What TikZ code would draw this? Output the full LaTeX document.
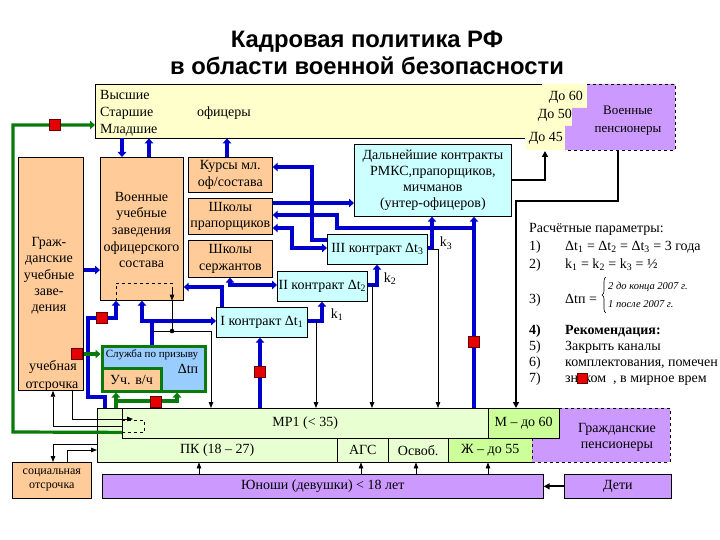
\documentclass[tikz,border=0pt]{standalone}
\usepackage{fontspec}
\setmainfont{Liberation Serif}
\newfontfamily\titlefont{Liberation Sans}
\usetikzlibrary{arrows.meta,decorations.pathreplacing}
\definecolor{peach}{HTML}{FFCC99}
\definecolor{yel}{HTML}{FFFFCC}
\definecolor{cyanl}{HTML}{CCFFFF}
\definecolor{purp}{HTML}{CC99FF}
\definecolor{bluel}{HTML}{99CCFF}
\definecolor{gl}{HTML}{E8FFD2}
\definecolor{gd}{HTML}{CCFF99}
\definecolor{myblue}{HTML}{0000CC}
\definecolor{mygreen}{HTML}{0A7A0A}
\definecolor{myred}{HTML}{E60000}
\newcommand\fmain{\fontsize{14}{16.5}\selectfont}
\newcommand\fsmall{\fontsize{11}{13}\selectfont}
\newcommand\fsoc{\fontsize{12}{14}\selectfont}
\newcommand\fital{\fontsize{10.5}{12}\selectfont\itshape}
\begin{document}
\begin{tikzpicture}[x=1pt,y=-1pt,
  bx/.style={draw, line width=0.7pt, inner sep=0pt, anchor=north west, align=center, font=\fmain},
  cell/.style={inner sep=0pt, anchor=north west, align=center, font=\fmain},
  txt/.style={inner sep=0pt, font=\fmain, anchor=base},
  bl/.style={draw=myblue, line width=3.2pt},
  blar/.style={bl, -{Triangle[length=5pt,width=8.5pt]}},
  blboth/.style={bl, {Triangle[length=5pt,width=8.5pt]}-{Triangle[length=5pt,width=8.5pt]}},
  grar/.style={draw=mygreen, line width=3.2pt, -{Triangle[length=5pt,width=8.5pt]}},
  bk/.style={draw=black, line width=0.8pt},
  bkar/.style={bk, -{Triangle[length=6pt,width=4.5pt]}},
  bkth/.style={draw=black, line width=1.8pt, -{Triangle[length=6pt,width=6pt]}},
  redsq/.style={fill=myred, draw=red!40!black, line width=0.6pt, minimum size=11pt, inner sep=0pt},
]
\fill[white] (0,0) rectangle (720,540);
\useasboundingbox (0,0) rectangle (720,540);

% title
\node[txt, font=\titlefont\bfseries\fontsize{23.8}{28}\selectfont] (title1) at (367,48) {Кадровая политика РФ};
\node[txt, font=\titlefont\bfseries\fontsize{23.8}{28}\selectfont] (title2) at (367,75) {в области военной безопасности};

% officers
\fill[yel] (95,84) -- (587,84) -- (587,108) -- (572,108) -- (572,126) -- (565,126) -- (565,150) -- (526,150) -- (526,138) -- (95,138) -- cycle;
\node[cell, minimum width=447, minimum height=54] (off) at (95,84) {};
\draw[line width=0.7pt] (542,84) -- (95,84) -- (95,138) -- (525,138);
\node[txt, anchor=base west] (o1) at (100,100) {Высшие};
\node[txt, anchor=base west] (o2) at (100,117) {Старшие};
\node[txt, anchor=base west] (o3) at (100,134) {Младшие};
\node[txt] (o4) at (224,117) {офицеры};
\node[txt, anchor=base east] (d60) at (583,101) {До 60};
\node[txt, anchor=base east] (d50) at (572,119) {До 50};
\node[txt, anchor=base east] (d45) at (563,142) {До 45};
\coordinate (y45) at (545,151);

% military pensioners
\fill[purp] (587,84) -- (675,84) -- (675,150) -- (565,150) -- (565,126) -- (572,126) -- (572,108) -- (587,108) -- cycle;
\draw[dashed, line width=0.7pt] (587,84) -- (675,84) -- (675,150) -- (565,150);
\node[cell, minimum width=110, minimum height=66] (vpens) at (565,84) {};
\node[txt, font=\fontsize{13}{15}\selectfont] (vp1) at (628,115) {Военные};
\node[txt, font=\fontsize{13}{15}\selectfont] (vp2) at (628,133) {пенсионеры};

% left boxes
\node[bx, fill=peach, minimum width=65, minimum height=233] (grazh) at (18,157) {};
\node[txt, align=center, anchor=center, font=\fontsize{14}{16.3}\selectfont] (g1) at (49,276) {Граж-\\данские\\учебные\\заве-\\дения};
\node[txt] (g2) at (53,370) {учебная};
\node[txt] (g3) at (52,388) {отсрочка};

\node[bx, fill=peach, minimum width=83, minimum height=143] (vuz) at (100,157) {};
\node[txt, align=center, anchor=center, font=\fontsize{14}{16.6}\selectfont] (v1) at (141.5,230) {Военные\\учебные\\заведения\\офицерского\\состава};

\node[bx, fill=peach, minimum width=84, minimum height=35] (kursy) at (188,157) {Курсы мл.\\оф/состава};
\node[bx, fill=peach, minimum width=84, minimum height=36] (shpr) at (188,198) {Школы\\прапорщиков};
\node[bx, fill=peach, minimum width=84, minimum height=37] (shser) at (188,240) {Школы\\сержантов};

\node[bx, fill=cyanl, minimum width=157, minimum height=72, font=\fontsize{14}{16}\selectfont] (dalk) at (354,144) {Дальнейшие контракты\\РМКС,прапорщиков,\\мичманов\\(унтер-офицеров)};
\node[bx, fill=cyanl, minimum width=100, minimum height=30] (c3) at (327,234) {III контракт Δt\textsubscript{3}};
\node[bx, fill=cyanl, minimum width=90, minimum height=30] (c2) at (277,271) {II контракт Δt\textsubscript{2}};
\node[bx, fill=cyanl, minimum width=91, minimum height=30] (c1) at (216,307) {I контракт Δt\textsubscript{1}};

\node[txt] (k1) at (337,318) {k\textsubscript{1}};
\node[txt] (k2) at (390,282) {k\textsubscript{2}};
\node[txt] (k3) at (446,247) {k\textsubscript{3}};

% conscription service
\node[bx, fill=bluel, draw=mygreen, line width=3pt, minimum width=103, minimum height=45] (sluzh) at (100.5,344.5) {};
\node[bx, fill=peach, draw=mygreen, line width=3pt, minimum width=59, minimum height=23] (uch) at (100.5,366.5) {Уч. в/ч};
\node[txt, font=\fsmall] (sl1) at (152,357) {Служба по призыву};
\node[txt] (sl2) at (188,373) {Δtп};

% reserve block
\fill[purp] (559,408) -- (670,408) -- (670,462) -- (532,462) -- (532,438) -- (559,438) -- cycle;
\draw[dashed, line width=0.7pt] (559,408) -- (670,408) -- (670,462) -- (532,462) -- (532,438);
\node[txt, align=center, anchor=center, font=\fontsize{14}{16}\selectfont] (gp) at (617,437) {Гражданские\\пенсионеры};

\fill[gl] (97,408) -- (559,408) -- (559,438) -- (532,438) -- (532,462) -- (97,462) -- cycle;
\fill[gd] (488,408) rectangle (559,438);
\fill[gd] (448,438) rectangle (532,462);
\draw[line width=0.7pt] (532,438) -- (559,438) -- (559,408) -- (97,408) -- (97,462) -- (532,462);
\draw[line width=0.7pt] (122,408) -- (122,438) -- (532,438);
\draw[line width=0.7pt] (488,408) -- (488,438);
\draw[line width=0.7pt] (337,438) -- (337,462);
\draw[line width=0.7pt] (388,438) -- (388,462);
\draw[line width=0.7pt] (448,438) -- (448,462);
\node[cell, minimum width=25, minimum height=54] (mrl) at (97,408) {};
\node[cell, minimum width=366, minimum height=30] (mr1) at (122,408) {МР1 (< 35)};
\node[cell, minimum width=71, minimum height=30] (mdo60) at (488,408) {М – до 60};
\node[cell, minimum width=240, minimum height=24] (pk) at (97,438) {ПК (18 – 27)};
\node[cell, minimum width=51, minimum height=24] (ags) at (337,438) {АГС};
\node[cell, minimum width=60, minimum height=24] (osv) at (388,438) {Освоб.};
\node[cell, minimum width=84, minimum height=24] (zh) at (448,438) {Ж – до 55};
\node[cell, minimum width=22, minimum height=12] (dsh) at (122,420) {};
\draw[dashed, line width=0.7pt] (dsh.north west) -- (dsh.north east) -- (dsh.south east) -- (dsh.south west);

\node[bx, fill=purp, minimum width=441, minimum height=24] (yun) at (102,474) {Юноши (девушки) < 18 лет};
\node[bx, fill=purp, minimum width=107, minimum height=24] (deti) at (564,474) {Дети};
\node[bx, fill=peach, minimum width=79, minimum height=36, font=\fsoc] (soc) at (12,462) {социальная\\отсрочка};

% blue connectors
\draw[blar] (122,0 |- off.south) -- (122,0 |- vuz.north);
\draw[blar] (149,0 |- vuz.north) -- (149,0 |- off.south);
\draw[blar] (227,0 |- kursy.north) -- (227,0 |- off.south);
\draw[blar] (grazh.east |- 0,270) -- (vuz.west |- 0,270);
\draw[blar] (c3.west |- 0,240) -- (312,240) -- (312,167) -- (kursy.east |- 0,167);
\draw[blar] (shpr.east |- 0,203) -- (dalk.west |- 0,203);
\draw[blar] (474,0 |- mr1.north) -- (474,0 |- dalk.south);
\draw[blar] (474,228) -- (337,228) -- (337,215) -- (shpr.east |- 0,215);
\draw[blboth] (shpr.east |- 0,228) -- (292,228) -- (292,248) -- (c3.west |- 0,248);
\draw[blboth] (230,0 |- shser.south) -- (230,285) -- (c2.west |- 0,285);
\draw[blar] (222,0 |- c1.north) -- (222,287) -- (vuz.east |- 0,287);
\draw[bl] (152,0 |- sluzh.north) -- (152,321);
\draw[blar] (153.6,321) -- (142,321) -- (142,0 |- vuz.south);
\draw[blar] (150.4,321) -- (c1.west |- 0,321);
\draw[blar] (105,0 |- mrl.north) -- (105,397) -- (88,397) -- (88,318) -- (116,318) -- (116,0 |- vuz.south);
\draw[blar] (c1.east |- 0,321) -- (322,321) -- (322,0 |- c2.south);
\draw[blar] (c2.east |- 0,285) -- (377,285) -- (377,0 |- c3.south);
\draw[blar] (c3.east |- 0,248) -- (432,248) -- (432,0 |- dalk.south);
\draw[blar] (260,0 |- mr1.north) -- (260,0 |- c1.south);

% green connectors
\draw[grar] (dsh.south west) -- (13,432) -- (13,125) -- (off.west |- 0,125);
\draw[grar] (grazh.east |- 0,354) -- (sluzh.west |- 0,354);
\draw[grar] (116,0 |- mrl.north) -- (116,0 |- sluzh.south);
\draw[grar] (114.4,401) -- (177,401) -- (177,0 |- sluzh.south);

% black connectors
\draw[bkth] (dalk.east |- 0,180) -- (545,180) -- (y45);
\draw[bkth] (618,0 |- vpens.south) -- (618,201) -- (516,201) -- (516,0 |- mdo60.north);
\draw[bk, dashed] (116,0 |- vuz.south) -- (116,283) -- (172,283) -- (172,290);
\draw[bkar] (172,289) -- (172,0 |- vuz.south);
\draw[bk] (172,0 |- vuz.south) -- (172,331);
\fill (172,331) circle (2.3);
\draw[bkar] (152,331) -- (211,331) -- (211,0 |- mr1.north);
\draw[bkar] (316,321) -- (316,0 |- mr1.north);
\draw[bkar] (372,285) -- (372,0 |- mr1.north);
\draw[bkar] (432,249) -- (438,249) -- (438,0 |- mr1.north);
\draw[bkar] (72,0 |- grazh.south) -- (72,419) -- (133,419);
\draw[bkar] (dsh.west |- 0,426) -- (53,426) -- (53,0 |- grazh.south);
\draw[bkar] (mrl.west |- 0,444) -- (53,444) -- (53,0 |- soc.north);
\draw[bkar] (67,0 |- soc.north) -- (67,450) -- (mrl.west |- 0,450);
\draw[bkar] (199,0 |- yun.north) -- (199,0 |- pk.south);
\draw[bkar] (361,0 |- yun.north) -- (361,0 |- ags.south);
\draw[bkar] (416,0 |- yun.north) -- (416,0 |- osv.south);
\draw[bkar] (488,0 |- yun.north) -- (488,0 |- zh.south);
\draw[bkth] (deti.west) -- (yun.east);

% red squares
\node[redsq] (r1) at (55,125) {};
\node[redsq] (r2) at (77,354) {};
\node[redsq] (r3) at (102,318) {};
\node[redsq] (r4) at (156,402) {};
\node[redsq] (r5) at (260,372) {};
\node[redsq] (r6) at (474,342) {};

% parameters text
\begin{scope}
\clip (0,0) rectangle (720,540);
\node[txt, anchor=base west] (p0) at (529,233) {Расчётные параметры:};
\node[txt, anchor=base west] (p1n) at (529,250) {1)};
\node[txt, anchor=base west] (p1) at (565,250) {Δt\textsubscript{1} = Δt\textsubscript{2} = Δt\textsubscript{3} = 3 года};
\node[txt, anchor=base west] (p2n) at (529,268) {2)};
\node[txt, anchor=base west] (p2) at (565,268) {k\textsubscript{1} = k\textsubscript{2} = k\textsubscript{3} = ½};
\node[txt, anchor=base west] (p3n) at (529,303) {3)};
\node[txt, anchor=base west] (p3) at (565,303) {Δtп =};
\draw[decorate, decoration={brace, amplitude=4pt}, line width=0.6pt] (606,313) -- (606,277);
\node[txt, anchor=base west, font=\fital] (p3a) at (608,289) {2 до конца 2007 г.};
\node[txt, anchor=base west, font=\fital] (p3b) at (608,307) {1 после 2007 г.};
\node[txt, anchor=base west, font=\fmain\bfseries] (p4n) at (529,334) {4)};
\node[txt, anchor=base west, font=\fmain\bfseries] (p4) at (565,334) {Рекомендация:};
\node[txt, anchor=base west] (p5n) at (529,350.5) {5)};
\node[txt, anchor=base west] (p5) at (565,350.5) {Закрыть каналы};
\node[txt, anchor=base west] (p6n) at (529,366) {6)};
\node[txt, anchor=base west] (p6) at (565,366) {комплектования, помечен};
\node[txt, anchor=base west] (p7n) at (529,382) {7)};
\node[txt, anchor=base west] (p7) at (565,382) {знаком};
\node[txt, anchor=base west] (p7b) at (613,382) {, в мирное врем};
\node[redsq, minimum size=10pt] (r7) at (582,378) {};
\end{scope}
\end{tikzpicture}
\end{document}
